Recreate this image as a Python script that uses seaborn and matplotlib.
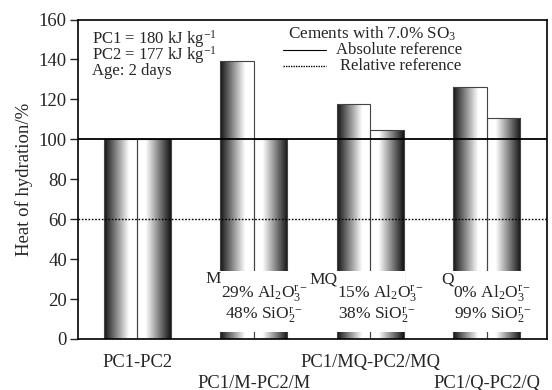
import numpy as np
import pandas as pd
import seaborn as sns
import matplotlib.pyplot as plt
from matplotlib.patches import Rectangle

groups = ["PC1-PC2", "PC1/M-PC2/M", "PC1/MQ-PC2/MQ", "PC1/Q-PC2/Q"]
pc1 = [100, 139, 117.5, 126]
pc2 = [100, 100, 104.5, 110.5]
tick_labels = ["PC1-PC2", "\nPC1/M-PC2/M", "PC1/MQ-PC2/MQ", "\nPC1/Q-PC2/Q"]
admix = ["", "M", "MQ", "Q"]
al2o3 = [None, 29, 15, 0]
sio2 = [None, 48, 38, 99]
abs_ref = 100
rel_ref = 60

sns.set_theme(style="white")
plt.rcParams['font.family'] = ['Liberation Serif', 'DejaVu Serif']
plt.rcParams['mathtext.fontset'] = 'custom'
plt.rcParams['mathtext.rm'] = 'Liberation Serif'
plt.rcParams['mathtext.it'] = 'Liberation Serif:italic'

df = pd.DataFrame({
  'group': groups * 2,
  'value': pc1 + pc2,
  'cement': ['PC1'] * 4 + ['PC2'] * 4,
})

fig = plt.figure(figsize=(5.52, 3.9), dpi=100)
ax = fig.add_axes([0.1413, 0.1308, 0.8491, 0.8192])
sns.barplot(data=df, x='group', y='value', hue='cement', width=0.578,
            ax=ax, legend=False, facecolor='none', edgecolor='#444444',
            linewidth=0.8)

# gradient fill: dark at the outer edge of each pair
grad = np.concatenate([np.linspace(0.08, 1.0, 75), np.ones(25)])
for i, p in enumerate(ax.patches):
  x0, y0 = p.get_x(), p.get_y()
  w, h = p.get_width(), p.get_height()
  g = grad if i < 4 else grad[::-1]
  im = ax.imshow(g[np.newaxis, :], cmap='gray', vmin=0, vmax=1, aspect='auto',
                 extent=[x0, x0 + w, y0, y0 + h], zorder=1, interpolation='bilinear')
  im.set_clip_path(p)
  p.set_zorder(2)

ax.axhline(abs_ref, color='black', lw=1.3, zorder=3)
ax.axhline(rel_ref, color='black', lw=1.0, ls=(0, (1.2, 1.2)), zorder=3)

bw = 0.289
for i in range(1, 4):
  ax.add_patch(Rectangle((i - bw - 0.012, 3.6), 2 * bw + 0.024, 30.5, facecolor='white',
                         edgecolor='none', zorder=4))
  ax.text(i - bw + 0.01, 33.8, admix[i], ha='right', va='top', fontsize=12.5, zorder=5)
  ax.text(i - bw + 0.005, 23.0, r'%d%% Al$_2$O$_3^{\mathrm{r-}}$' % al2o3[i],
          ha='left', va='center', fontsize=12.5, zorder=5)
  ax.text(i - bw + (0.045 if i == 1 else 0.01), 11.5,
          r'%d%% SiO$_2^{\mathrm{r-}}$' % sio2[i],
          ha='left', va='center', fontsize=12.5, zorder=5)

ax.set_xlim(-0.51, 3.517)
ax.set_ylim(0, 160)
ax.set_yticks(range(0, 161, 20))
ax.set_xticks(range(4))
ax.set_xticklabels(tick_labels, fontsize=13.3, linespacing=1.25)
ax.tick_params(axis='y', labelsize=13.5, length=6, width=1, direction='out', left=True, pad=2)
ax.tick_params(axis='x', length=0, pad=11)
ax.set_xlabel('')
ax.set_ylabel('Heat of hydration/%', fontsize=13.5, labelpad=4)
for s in ax.spines.values():
  s.set_color('black')
  s.set_linewidth(1.2)

# annotations in axes coordinates
ax.text(0.029, 0.925, r'PC1 = 180 kJ kg$^{\mathrm{-1}}$', transform=ax.transAxes, fontsize=12, va='baseline')
ax.text(0.029, 0.875, r'PC2 = 177 kJ kg$^{\mathrm{-1}}$', transform=ax.transAxes, fontsize=12, va='baseline')
ax.text(0.029, 0.826, 'Age: 2 days', transform=ax.transAxes, fontsize=12, va='baseline')

ax.text(0.448, 0.94, r'Cements with 7.0% SO$_3$', transform=ax.transAxes, fontsize=12.3, va='baseline')
ax.plot([0.438, 0.529], [0.906, 0.906], transform=ax.transAxes, color='black', lw=0.8)
ax.text(0.55, 0.892, 'Absolute reference', transform=ax.transAxes, fontsize=12, va='baseline')
ax.plot([0.438, 0.529], [0.856, 0.856], transform=ax.transAxes, color='black', lw=1.0, ls=(0, (1, 0.8)))
ax.text(0.559, 0.842, 'Relative reference', transform=ax.transAxes, fontsize=12, va='baseline')

fig.savefig('out.png', dpi=100)
